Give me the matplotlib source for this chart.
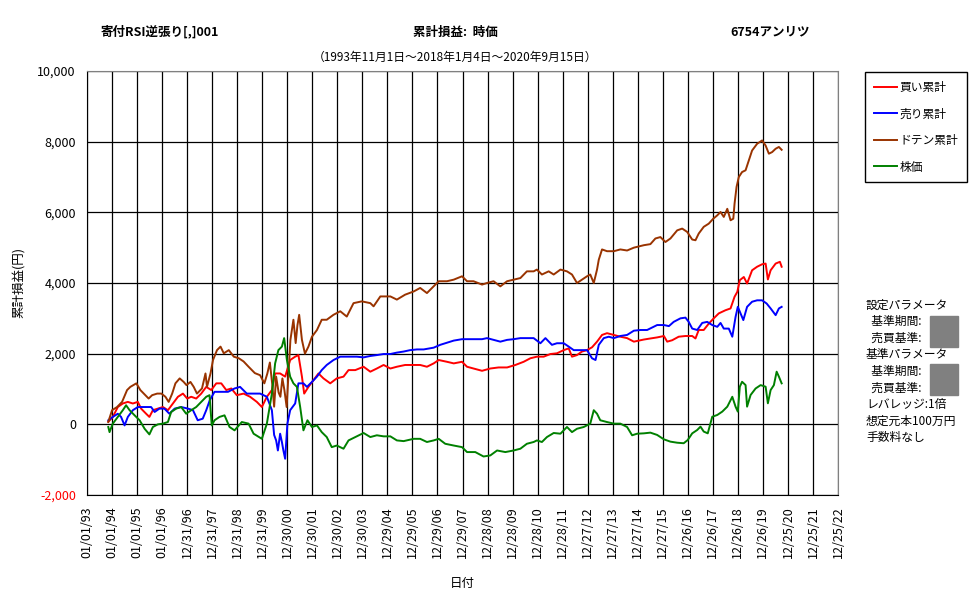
import numpy as np
import pandas as pd
import matplotlib
matplotlib.use('Agg')
import matplotlib.pyplot as plt
from matplotlib.patches import Rectangle

plt.rcParams['font.family'] = ['Noto Sans CJK JP', 'DejaVu Sans']

# 読み取った値 (年は小数表記)
buy_year = [1993.85, 1994.03, 1994.23, 1994.43, 1994.63, 1994.83, 1995.03, 1995.16, 1995.36, 1995.49,
            1995.63, 1995.83, 1996.03, 1996.23, 1996.43, 1996.63, 1996.83, 1997.0, 1997.16, 1997.36,
            1997.56, 1997.76, 1997.96, 1998.16, 1998.36, 1998.56, 1998.76, 1998.98, 1999.25, 1999.51,
            1999.78, 1999.98, 2000.18, 2000.38, 2000.51, 2000.71, 2000.91, 2001.11, 2001.31, 2001.44,
            2001.58, 2001.67, 2001.84, 2002.04, 2002.24, 2002.44, 2002.71, 2002.97, 2003.24, 2003.44,
            2003.71, 2004.04, 2004.31, 2004.57, 2004.84, 2005.11, 2005.37, 2005.7, 2006.04, 2006.3,
            2006.57, 2006.84, 2007.04, 2007.37, 2007.64, 2007.97, 2008.17, 2008.43, 2008.77, 2009.1,
            2009.43, 2009.77, 2010.1, 2010.43, 2010.7, 2010.96, 2011.23, 2011.5, 2011.76, 2012.03,
            2012.23, 2012.36, 2012.56, 2012.76, 2012.96, 2013.16, 2013.36, 2013.56, 2013.76, 2014.03,
            2014.29, 2014.56, 2014.83, 2015.23, 2015.49, 2015.76, 2016.03, 2016.16, 2016.36, 2016.62,
            2016.89, 2017.16, 2017.29, 2017.42, 2017.62, 2017.82, 2018.02, 2018.22, 2018.49, 2018.69,
            2018.85, 2018.96, 2019.06, 2019.22, 2019.35, 2019.55, 2019.75, 2019.95, 2020.09, 2020.18,
            2020.29, 2020.49, 2020.66, 2020.73]
buy_val = [70, 210, 490, 590, 635, 590, 635, 445, 300, 210,
           400, 445, 490, 400, 590, 780, 870, 730, 780, 730,
           870, 1060, 970, 1160, 1160, 970, 1015, 825, 870, 780,
           635, 490, 780, 970, 1440, 1440, 1350, 1820, 1915, 1960,
           1350, 870, 1060, 1250, 1440, 1300, 1160, 1300, 1350, 1535,
           1535, 1630, 1490, 1580, 1680, 1580, 1630, 1680, 1680, 1680,
           1630, 1725, 1820, 1770, 1725, 1770, 1630, 1580, 1515, 1580,
           1610, 1610, 1680, 1770, 1870, 1915, 1915, 1990, 2010, 2100,
           2150, 1915, 1960, 2060, 2100, 2180, 2340, 2530, 2580, 2530,
           2480, 2440, 2340, 2400, 2430, 2460, 2500, 2340, 2380, 2480,
           2500, 2500, 2430, 2670, 2670, 2850, 3000, 3140, 3230, 3280,
           3610, 3750, 4080, 4170, 3985, 4360, 4460, 4530, 4550, 4100,
           4360, 4550, 4600, 4460]

sell_year = [1993.85, 1994.03, 1994.23, 1994.36, 1994.5, 1994.63, 1994.83, 1995.03, 1995.36, 1995.56,
             1995.7, 1995.89, 1996.09, 1996.29, 1996.5, 1996.76, 1997.03, 1997.23, 1997.42, 1997.62,
             1997.76, 1997.9, 1998.09, 1998.36, 1998.63, 1998.89, 1999.11, 1999.38, 1999.65, 1999.91,
             2000.18, 2000.38, 2000.47, 2000.55, 2000.62, 2000.71, 2000.78, 2000.84, 2000.91, 2001.0,
             2001.11, 2001.31, 2001.44, 2001.64, 2001.78, 2001.98, 2002.18, 2002.37, 2002.57, 2002.84,
             2003.11, 2003.31, 2003.51, 2003.77, 2004.04, 2004.31, 2004.57, 2004.84, 2005.11, 2005.37,
             2005.64, 2005.9, 2006.17, 2006.44, 2006.84, 2007.1, 2007.37, 2007.64, 2007.97, 2008.17,
             2008.43, 2008.77, 2008.97, 2009.23, 2009.5, 2009.77, 2010.03, 2010.3, 2010.56, 2010.83,
             2011.1, 2011.3, 2011.56, 2011.76, 2012.03, 2012.23, 2012.43, 2012.7, 2012.96, 2013.16,
             2013.3, 2013.43, 2013.63, 2013.83, 2014.03, 2014.29, 2014.56, 2014.83, 2015.09, 2015.36,
             2015.76, 2016.03, 2016.23, 2016.42, 2016.69, 2016.89, 2017.02, 2017.16, 2017.36, 2017.56,
             2017.76, 2017.96, 2018.16, 2018.29, 2018.42, 2018.62, 2018.76, 2018.89, 2018.98, 2019.09,
             2019.2, 2019.35, 2019.55, 2019.75, 2019.95, 2020.13, 2020.29, 2020.49, 2020.62, 2020.73]
sell_val = [115, 210, 300, 210, -30, 210, 400, 490, 490, 490,
            350, 445, 445, 300, 445, 490, 445, 400, 115, 160,
            400, 680, 920, 920, 920, 1015, 1060, 870, 870, 870,
            780, 400, -300, -455, -740, -265, -500, -740, -975, 20,
            400, 590, 1160, 1160, 1060, 1200, 1350, 1535, 1680, 1820,
            1915, 1915, 1915, 1915, 1895, 1935, 1960, 1990, 1990, 2030,
            2060, 2100, 2120, 2120, 2170, 2250, 2310, 2370, 2410, 2410,
            2410, 2410, 2440, 2390, 2340, 2390, 2410, 2440, 2440, 2440,
            2295, 2440, 2250, 2295, 2295, 2200, 2100, 2100, 2100, 1870,
            1820, 2250, 2440, 2480, 2440, 2500, 2530, 2650, 2670, 2670,
            2810, 2810, 2780, 2900, 3000, 3020, 2900, 2710, 2670, 2870,
            2900, 2810, 2760, 2870, 2710, 2710, 2480, 3040, 3325, 3140,
            2950, 3325, 3470, 3510, 3510, 3420, 3280, 3090, 3280, 3325]

doten_year = [1993.85, 1994.0, 1994.2, 1994.4, 1994.6, 1994.73, 1994.97, 1995.13, 1995.33, 1995.46,
              1995.6, 1995.8, 1995.97, 1996.13, 1996.26, 1996.4, 1996.53, 1996.7, 1996.86, 1996.97,
              1997.13, 1997.26, 1997.39, 1997.59, 1997.73, 1997.79, 1997.93, 1998.03, 1998.19, 1998.33,
              1998.46, 1998.66, 1998.86, 1999.06, 1999.25, 1999.45, 1999.7, 1999.91, 2000.08, 2000.2,
              2000.3, 2000.4, 2000.47, 2000.55, 2000.65, 2000.72, 2000.8, 2000.88, 2000.97, 2001.05,
              2001.12, 2001.24, 2001.33, 2001.4, 2001.47, 2001.58, 2001.7, 2001.84, 2001.98, 2002.18,
              2002.37, 2002.57, 2002.84, 2003.11, 2003.37, 2003.64, 2003.97, 2004.31, 2004.44, 2004.71,
              2005.11, 2005.37, 2005.7, 2006.04, 2006.3, 2006.57, 2006.84, 2007.04, 2007.37, 2007.64,
              2007.97, 2008.17, 2008.43, 2008.77, 2008.97, 2009.23, 2009.5, 2009.77, 2010.03, 2010.3,
              2010.56, 2010.83, 2010.96, 2011.16, 2011.43, 2011.63, 2011.9, 2012.16, 2012.36, 2012.56,
              2012.76, 2012.96, 2013.09, 2013.23, 2013.36, 2013.43, 2013.56, 2013.76, 2014.03, 2014.29,
              2014.56, 2014.83, 2015.23, 2015.49, 2015.69, 2015.89, 2016.09, 2016.29, 2016.56, 2016.76,
              2016.96, 2017.16, 2017.29, 2017.42, 2017.62, 2017.82, 2018.0, 2018.16, 2018.29, 2018.42,
              2018.56, 2018.69, 2018.8, 2018.85, 2018.93, 2019.02, 2019.15, 2019.29, 2019.42, 2019.55,
              2019.75, 2019.95, 2020.09, 2020.22, 2020.35, 2020.49, 2020.62, 2020.73]
doten_val = [70, 400, 490, 635, 970, 1060, 1160, 970, 825, 730,
             825, 870, 870, 780, 635, 870, 1160, 1300, 1200, 1110,
             1200, 1060, 870, 1015, 1440, 1060, 1440, 1820, 2100, 2200,
             2010, 2100, 1915, 1870, 1780, 1630, 1450, 1390, 1160, 1440,
             1750, 1100, 500, 1350, 900, 780, 1300, 970, 490, 1500,
             2390, 2960, 2300, 2800, 3100, 2390, 2000, 2200, 2480, 2670,
             2960, 2960, 3100, 3200, 3050, 3430, 3480, 3430, 3340, 3620,
             3620, 3530, 3670, 3760, 3860, 3715, 3905, 4050, 4050, 4095,
             4190, 4050, 4050, 3955, 4000, 4050, 3905, 4050, 4095, 4140,
             4330, 4330, 4380, 4240, 4330, 4240, 4380, 4330, 4240, 4000,
             4095, 4190, 4240, 4000, 4380, 4660, 4950, 4900, 4900, 4950,
             4920, 5000, 5070, 5100, 5260, 5300, 5160, 5260, 5490, 5540,
             5445, 5230, 5210, 5400, 5590, 5680, 5820, 5915, 6010, 5870,
             6100, 5775, 5820, 6245, 6720, 7000, 7140, 7190, 7470, 7750,
             7940, 8035, 7890, 7660, 7705, 7800, 7850, 7770]

stock_year = [1993.85, 1993.9, 1994.03, 1994.23, 1994.43, 1994.56, 1994.7, 1994.9, 1995.1, 1995.3,
              1995.49, 1995.63, 1995.83, 1996.03, 1996.23, 1996.36, 1996.56, 1996.76, 1996.96, 1997.16,
              1997.36, 1997.56, 1997.76, 1997.89, 1997.98, 1998.09, 1998.29, 1998.49, 1998.69, 1998.89,
              1999.18, 1999.45, 1999.65, 1999.98, 2000.18, 2000.38, 2000.51, 2000.64, 2000.78, 2000.87,
              2000.98, 2001.11, 2001.24, 2001.38, 2001.51, 2001.64, 2001.8, 2001.98, 2002.18, 2002.37,
              2002.57, 2002.77, 2002.97, 2003.24, 2003.44, 2003.71, 2004.04, 2004.31, 2004.57, 2004.84,
              2005.11, 2005.37, 2005.64, 2006.04, 2006.3, 2006.57, 2006.84, 2007.04, 2007.3, 2007.64,
              2007.97, 2008.17, 2008.5, 2008.83, 2009.1, 2009.37, 2009.7, 2010.03, 2010.3, 2010.56,
              2010.83, 2010.96, 2011.16, 2011.36, 2011.63, 2011.9, 2012.16, 2012.36, 2012.56, 2012.83,
              2013.09, 2013.23, 2013.36, 2013.49, 2013.76, 2014.03, 2014.29, 2014.56, 2014.76, 2014.96,
              2015.23, 2015.49, 2015.76, 2016.03, 2016.29, 2016.56, 2016.82, 2016.98, 2017.16, 2017.36,
              2017.49, 2017.62, 2017.78, 2017.96, 2018.16, 2018.36, 2018.56, 2018.76, 2018.89, 2018.98,
              2019.06, 2019.15, 2019.29, 2019.35, 2019.49, 2019.69, 2019.89, 2020.09, 2020.18, 2020.29,
              2020.42, 2020.53, 2020.62, 2020.73]
stock_val = [-75, -220, 20, 210, 400, 540, 400, 255, 115, -125,
             -285, -75, 0, 20, 65, 350, 445, 490, 300, 400,
             490, 635, 780, 825, -30, 115, 210, 255, -75, -170,
             65, 20, -265, -410, 20, 870, 1725, 2100, 2200, 2440,
             1820, 1350, 1160, 1060, 490, -170, 115, -75, -30, -220,
             -360, -645, -600, -690, -455, -360, -245, -360, -310, -340,
             -340, -455, -475, -410, -410, -500, -455, -410, -550, -600,
             -645, -785, -785, -910, -880, -740, -785, -740, -690, -550,
             -500, -455, -500, -360, -245, -265, -75, -220, -125, -75,
             20, 400, 300, 115, 65, 20, 20, -75, -310, -265,
             -255, -235, -300, -425, -490, -520, -535, -445, -255, -160,
             -65, -205, -255, 215, 265, 360, 500, 780, 500, 360,
             1065, 1205, 1110, 500, 830, 1015, 1110, 1065, 595, 970,
             1110, 1490, 1350, 1160]

xtick_dates = pd.date_range('1993-01-01', periods=31, freq='365D')
yticks = [-2000, 0, 2000, 4000, 6000, 8000, 10000]


def to_dates(years):
    y = np.asarray(years)
    return pd.Timestamp('1993-01-01') + pd.to_timedelta((y - 1993) * 365.25, unit='D')


W, H = 977, 600
fig = plt.figure(figsize=(W / 100, H / 100), dpi=100)
ax = fig.add_axes([87 / W, 1 - 495 / H, (838 - 87) / W, (495 - 71) / H])

ax.plot(to_dates(buy_year), buy_val, color='#ff0000', lw=1.4, label='買い累計')
ax.plot(to_dates(sell_year), sell_val, color='#0000ff', lw=1.4, label='売り累計')
ax.plot(to_dates(doten_year), doten_val, color='#993300', lw=1.4, label='ドテン累計')
ax.plot(to_dates(stock_year), stock_val, color='#008000', lw=1.4, label='株価')

ax.set_xlim(xtick_dates[0], xtick_dates[-1])
ax.set_ylim(-2000, 10000)
ax.set_xticks(xtick_dates)
ax.set_xticklabels([d.strftime('%m/%d/%y') for d in xtick_dates], rotation=90, fontsize=9)
ax.set_yticks(yticks)
ax.set_yticklabels(['{:,}'.format(v) for v in yticks], fontsize=9)
ax.get_yticklabels()[0].set_color('red')
ax.tick_params(length=0, pad=8)
ax.grid(True, color='black', lw=0.9)
ax.set_axisbelow(True)
for s in ['left', 'bottom']:
    ax.spines[s].set_color('black')
for s in ['top', 'right']:
    ax.spines[s].set_color('#808080')

ax.set_ylabel('累計損益(円)', fontsize=9, labelpad=8)
ax.set_xlabel('日付', fontsize=9, labelpad=14)

# タイトル
fig.text(160 / W, 1 - 32 / H, '寄付RSI逆張り[,]001', ha='center', va='center', fontsize=9, fontweight='bold')
fig.text(455 / W, 1 - 32 / H, '累計損益:  時価', ha='center', va='center', fontsize=9, fontweight='bold')
fig.text(770 / W, 1 - 32 / H, '6754アンリツ', ha='center', va='center', fontsize=9, fontweight='bold')
fig.text(455 / W, 1 - 57 / H, '（1993年11月1日～2018年1月4日～2020年9月15日）',
         ha='center', va='center', fontsize=8.5)

leg = ax.legend(loc='upper left', bbox_to_anchor=(865 / W, 1 - 72 / H), bbox_transform=fig.transFigure,
                fontsize=8.5, frameon=True, fancybox=False, edgecolor='black', framealpha=1,
                borderpad=0.75, labelspacing=1.15, handlelength=2.0, handletextpad=0.2, borderaxespad=0)
leg.get_frame().set_linewidth(1.0)

# 右側のパラメータ表示
side_lines = ['設定パラメータ', '  基準期間:', '  売買基準:', '基準パラメータ', '  基準期間:', '  売買基準:',
              'レバレッジ:1倍', '想定元本100万円', '手数料なし']
for i, s in enumerate(side_lines):
    fig.text(866 / W, 1 - (305 + i * 16.6) / H, s, ha='left', va='center', fontsize=8.5)
for y0 in [316, 364]:
    fig.patches.append(Rectangle((930 / W, 1 - (y0 + 31) / H), 28 / W, 31 / H,
                                 transform=fig.transFigure, color='#808080'))

fig.savefig('out.png', dpi=100)
